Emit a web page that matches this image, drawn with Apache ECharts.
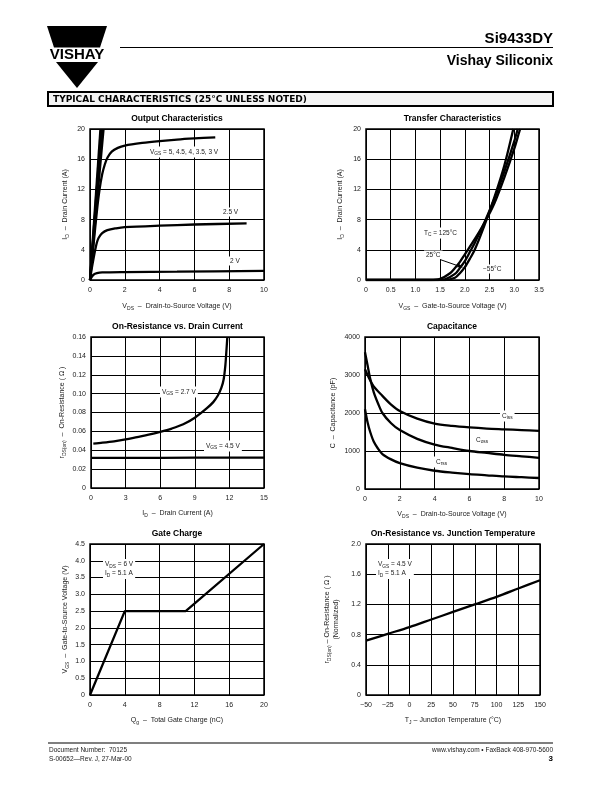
<!DOCTYPE html>
<html><head><meta charset="utf-8">
<script src="https://cdn.jsdelivr.net/npm/echarts@6/dist/echarts.min.js"></script>
<style>html,body{margin:0;padding:0;background:#fff}#c{width:612px;height:792px}</style>
</head><body><div id="c"></div>
<script>
// ---------- DATA ----------
// Output Characteristics (VDS V, ID A)
const outVgs5  = [[0,0],[0.6,20]];
const outVgs45 = [[0,0],[0.65,20]];
const outVgs4  = [[0,0],[0.7,20]];
const outVgs35 = [[0,0],[0.4,10.4],[0.78,20]];
const outVgs3  = [[0,0],[0.2,4.6],[0.4,9.2],[0.55,12],[0.7,14],[0.85,15.3],[1.0,16.2],[1.25,17.0],[1.6,17.5],[2,17.8],[3,18.15],[4,18.4],[5,18.6],[6,18.75],[7.2,18.9]];
const outVgs25 = [[0,0],[0.1,1.5],[0.2,2.8],[0.3,4],[0.4,5],[0.5,5.6],[0.7,6.2],[1,6.6],[1.5,6.85],[2,7.0],[4,7.2],[6,7.35],[9,7.5]];
const outVgs2  = [[0,0],[0.1,0.4],[0.2,0.7],[0.4,0.9],[0.7,1.0],[2,1.05],[5,1.1],[10,1.2]];
const outXTicks = ['0','2','4','6','8','10'];
const outYTicks = ['0','4','8','12','16','20'];
// Transfer Characteristics (VGS V, ID A)
const tr125 = [[0,0],[1.3,0],[1.5,0.15],[1.7,0.9],[1.8,1.6],[1.9,2.4],[2.0,3.4],[2.2,5.4],[2.4,7.6],[2.6,10.2],[2.8,13.6],[3.0,17.4],[3.1,19.6],[3.12,20]];
const tr25  = [[0,0],[1.45,0],[1.6,0.1],[1.8,0.8],[1.9,1.6],[2.0,2.5],[2.1,3.7],[2.2,4.9],[2.4,7.7],[2.6,10.8],[2.8,14.4],[3.0,18.4],[3.07,20]];
const trM55 = [[0,0],[1.6,0],[1.8,0.3],[1.9,0.9],[2.0,1.7],[2.1,2.8],[2.2,4.0],[2.4,7.3],[2.6,11.0],[2.8,15.2],[2.98,20]];
const trXTicks = ['0','0.5','1.0','1.5','2.0','2.5','3.0','3.5'];
const trYTicks = ['0','4','8','12','16','20'];
// On-Resistance vs Drain Current (ID A, rDS ohm)
const ronVgs27 = [[0.2,0.047],[1,0.048],[2,0.0495],[3,0.0515],[4,0.054],[5,0.0565],[6,0.0595],[7,0.063],[8,0.0675],[9,0.0745],[10,0.084],[10.6,0.091],[11,0.098],[11.3,0.106],[11.5,0.115],[11.65,0.13],[11.75,0.147],[11.82,0.16]];
const ronVgs45 = [[0,0.032],[3,0.032],[6,0.032],[9,0.0322],[12,0.0322],[15,0.0322]];
const ronXTicks = ['0','3','6','9','12','15'];
const ronYTicks = ['0','0.02','0.04','0.06','0.08','0.10','0.12','0.14','0.16'];
// Capacitance (VDS V, C pF)
const capCiss = [[0,3150],[0.25,2900],[0.5,2700],[1,2450],[1.5,2220],[2,2050],[3,1850],[4,1720],[5,1660],[6,1620],[7,1590],[8,1570],[9,1550],[10,1530]];
const capCoss = [[0,3600],[0.15,3250],[0.3,2900],[0.5,2550],[0.75,2250],[1,2000],[1.5,1730],[2,1550],[3,1320],[4,1170],[5,1080],[6,1000],[7,950],[8,900],[9,860],[10,820]];
const capCrss = [[0,2100],[0.15,1750],[0.3,1500],[0.5,1250],[0.75,1060],[1,920],[1.5,780],[2,680],[3,560],[4,480],[5,430],[6,390],[7,360],[8,330],[9,310],[10,290]];
const capXTicks = ['0','2','4','6','8','10'];
const capYTicks = ['0','1000','2000','3000','4000'];
// Gate Charge (Qg nC, VGS V)
const gateVgs = [[0,0],[4,2.5],[11,2.5],[20,4.5]];
const gateXTicks = ['0','4','8','12','16','20'];
const gateYTicks = ['0','0.5','1.0','1.5','2.0','2.5','3.0','3.5','4.0','4.5'];
// On-Resistance vs Junction Temperature (TJ °C, normalized)
const tempRon = [[-50,0.72],[-25,0.81],[0,0.9],[25,1.0],[50,1.1],[75,1.2],[100,1.3],[125,1.41],[150,1.52]];
const tempXTicks = ['\u221250','\u221225','0','25','50','75','100','125','150'];
const tempYTicks = ['0','0.4','0.8','1.2','1.6','2.0'];

// ---------- STYLE / LAYOUT ----------
const FONT = '"Liberation Sans", Arial, Helvetica, sans-serif';
const TXT = '#1a1a1a';
const grids = [
  {left:90,  top:129, width:174, height:151},
  {left:366, top:129, width:173, height:151},
  {left:91,  top:337, width:173, height:151},
  {left:365, top:337, width:174, height:152},
  {left:90,  top:544, width:174, height:151},
  {left:366, top:544, width:174, height:151}
];
const richSub = {
  n:{fontSize:7, fontFamily:FONT, color:TXT},
  s:{fontSize:5, fontFamily:FONT, color:TXT, padding:[4,0,0,0]}
};
function fmt(labels,min,step){return v=>{const i=Math.round((v-min)/step);return labels[i]!==undefined?labels[i]:'';};}
function xAx(g,min,max,step,labels,name,gap){
  return {type:'value',gridIndex:g,min,max,interval:step,
    axisLine:{show:false},axisTick:{show:false},
    splitLine:{show:true,lineStyle:{color:'#000',width:1}},
    axisLabel:{fontSize:7,color:TXT,fontFamily:FONT,margin:7,formatter:fmt(labels,min,step)},
    name,nameLocation:'middle',nameGap:gap,
    nameTextStyle:{fontSize:7,color:TXT,fontFamily:FONT,rich:richSub}};
}
function yAx(g,min,max,step,labels,name,gap){
  return {type:'value',gridIndex:g,min,max,interval:step,
    axisLine:{show:false},axisTick:{show:false},
    splitLine:{show:true,lineStyle:{color:'#000',width:1}},
    axisLabel:{fontSize:7,color:TXT,fontFamily:FONT,margin:5,formatter:fmt(labels,min,step)},
    name,nameLocation:'middle',nameGap:gap,
    nameTextStyle:{fontSize:7,color:TXT,fontFamily:FONT,rich:richSub,lineHeight:9}};
}
function ln(g,data,smooth){
  return {type:'line',xAxisIndex:g,yAxisIndex:g,data,showSymbol:false,symbol:'none',
    smooth:smooth?0.3:false,
    lineStyle:{color:'#000',width:2.3},silent:true,animation:false};
}
function title(g,text){
  const gr=grids[g];
  return {type:'text',x:gr.left+gr.width/2,y:gr.top-10,
    style:{text,fill:'#000',font:'bold 8.5px '+FONT,textAlign:'center',textVerticalAlign:'middle'}};
}
function note(x,y,text,bg){
  return {type:'text',x,y,z:50,
    style:{text,rich:{n:{fontSize:6.5,fontFamily:FONT,fill:TXT},s:{fontSize:4.8,fontFamily:FONT,fill:TXT,padding:[4,0,0,0]}},
      fill:TXT,font:'6.5px '+FONT,textVerticalAlign:'middle',
      backgroundColor:bg===false?'transparent':'#fff',padding:[1,2,1,2]}};
}

const graphic = [
  // logo
  {type:'polygon',shape:{points:[[47,26],[107,26],[100,47.5],[54,47.5]]},style:{fill:'#000'}},
  {type:'text',x:77,y:55,style:{text:'VISHAY',fill:'#000',font:'bold 15px '+FONT,textAlign:'center',textVerticalAlign:'middle'}},
  {type:'polygon',shape:{points:[[56,62],[98,62],[77,88]]},style:{fill:'#000'}},
  // header
  {type:'line',shape:{x1:120,y1:47.5,x2:553,y2:47.5},style:{stroke:'#000',lineWidth:1}},
  {type:'text',x:553,y:39,style:{text:'Si9433DY',fill:'#000',font:'bold 15px '+FONT,textAlign:'right',textVerticalAlign:'middle'}},
  {type:'text',x:553,y:61,style:{text:'Vishay Siliconix',fill:'#000',font:'bold 14px '+FONT,textAlign:'right',textVerticalAlign:'middle'}},
  {type:'rect',shape:{x:48,y:92,width:505,height:14},style:{fill:'#f4f4f4',stroke:'#000',lineWidth:2}},
  {type:'text',x:53,y:99.5,style:{text:'TYPICAL CHARACTERISTICS (25\u00b0C UNLESS NOTED)',fill:'#000',font:'bold 9px "DejaVu Sans", sans-serif',textVerticalAlign:'middle'}},
  // footer
  {type:'line',shape:{x1:48,y1:743,x2:553,y2:743},style:{stroke:'#000',lineWidth:1.2}},
  {type:'text',x:49,y:750,style:{text:'Document Number:  70125',fill:TXT,font:'6.5px '+FONT,textVerticalAlign:'middle'}},
  {type:'text',x:49,y:759,style:{text:'S-00652\u2014Rev. J, 27-Mar-00',fill:TXT,font:'6.5px '+FONT,textVerticalAlign:'middle'}},
  {type:'text',x:553,y:750,style:{text:'www.vishay.com \u2022 FaxBack 408-970-5600',fill:TXT,font:'6.5px '+FONT,textAlign:'right',textVerticalAlign:'middle'}},
  {type:'text',x:553,y:759,style:{text:'3',fill:'#000',font:'bold 8px '+FONT,textAlign:'right',textVerticalAlign:'middle'}},
  // titles
  title(0,'Output Characteristics'), title(1,'Transfer Characteristics'),
  title(2,'On-Resistance vs. Drain Current'), title(3,'Capacitance'),
  title(4,'Gate Charge'), title(5,'On-Resistance vs. Junction Temperature'),
  // annotations
  note(148,152,'{n|V}{s|GS}{n| = 5, 4.5, 4, 3.5, 3 V}'),
  note(221,212,'{n|2.5 V}'),
  note(228,261,'{n|2 V}'),
  note(422,233,'{n|T}{s|C}{n| = 125\u00b0C}'),
  note(424,255,'{n|25\u00b0C}'),
  {type:'line',z:50,shape:{x1:440,y1:259.5,x2:460,y2:266.5},style:{stroke:'#000',lineWidth:1}},
  {type:'polygon',z:50,shape:{points:[[463,267.5],[457,267.2],[459,263.8]]},style:{fill:'#000'}},
  note(481,269,'{n|\u221255\u00b0C}'),
  note(160,392,'{n|V}{s|GS}{n| = 2.7 V}'),
  note(204,446,'{n|V}{s|GS}{n| = 4.5 V}'),
  note(500,416,'{n|C}{s|iss}'),
  note(474,440,'{n|C}{s|oss}'),
  note(434,462,'{n|C}{s|rss}'),
  note(103,569,'{n|V}{s|DS}{n| = 6 V}\n{n|I}{s|D}{n| = 5.1 A}'),
  note(376,569,'{n|V}{s|GS}{n| = 4.5 V}\n{n|I}{s|D}{n| = 5.1 A}')
];

const option = {
  animation:false,
  backgroundColor:'#fff',
  grid: grids.map(g=>Object.assign({show:true,borderColor:'#000',borderWidth:1.5,backgroundColor:'transparent'},g)),
  xAxis:[
    xAx(0,0,10,2,outXTicks,'{n|V}{s|DS}{n|  \u2013  Drain-to-Source Voltage (V)}',22),
    xAx(1,0,3.5,0.5,trXTicks,'{n|V}{s|GS}{n|  \u2013  Gate-to-Source Voltage (V)}',22),
    xAx(2,0,15,3,ronXTicks,'{n|I}{s|D}{n|  \u2013  Drain Current (A)}',21),
    xAx(3,0,10,2,capXTicks,'{n|V}{s|DS}{n|  \u2013  Drain-to-Source Voltage (V)}',21),
    xAx(4,0,20,4,gateXTicks,'{n|Q}{s|g}{n|  \u2013  Total Gate Charge (nC)}',21),
    xAx(5,-50,150,25,tempXTicks,'{n|T}{s|J}{n| \u2013 Junction Temperature (\u00b0C)}',21)
  ],
  yAxis:[
    yAx(0,0,20,4,outYTicks,'{n|I}{s|D}{n|  \u2013  Drain Current (A)}',20),
    yAx(1,0,20,4,trYTicks,'{n|I}{s|D}{n|  \u2013  Drain Current (A)}',21),
    yAx(2,0,0.16,0.02,ronYTicks,'{n|r}{s|DS(on)}{n|  \u2013  On-Resistance ( \u03a9 )}',24),
    yAx(3,0,4000,1000,capYTicks,'{n|C  \u2013  Capacitance (pF)}',27),
    yAx(4,0,4.5,0.5,gateYTicks,'{n|V}{s|GS}{n|  \u2013  Gate-to-Source Voltage (V)}',20),
    yAx(5,0,2.0,0.4,tempYTicks,'{n|r}{s|DS(on)}{n| \u2013 On-Resistance ( \u03a9 )}\n{n|(Normalized)}',25)
  ],
  series:[
    ln(0,outVgs5,false), ln(0,outVgs45,false), ln(0,outVgs4,false), ln(0,outVgs35,true),
    ln(0,outVgs3,true), ln(0,outVgs25,true), ln(0,outVgs2,true),
    ln(1,tr125,true), ln(1,tr25,true), ln(1,trM55,true),
    ln(2,ronVgs27,true), ln(2,ronVgs45,false),
    ln(3,capCiss,true), ln(3,capCoss,true), ln(3,capCrss,true),
    ln(4,gateVgs,false),
    ln(5,tempRon,true)
  ],
  graphic
};
const chart = echarts.init(document.getElementById('c'),null,{renderer:'canvas'});
chart.setOption(option);
</script>
</body></html>
